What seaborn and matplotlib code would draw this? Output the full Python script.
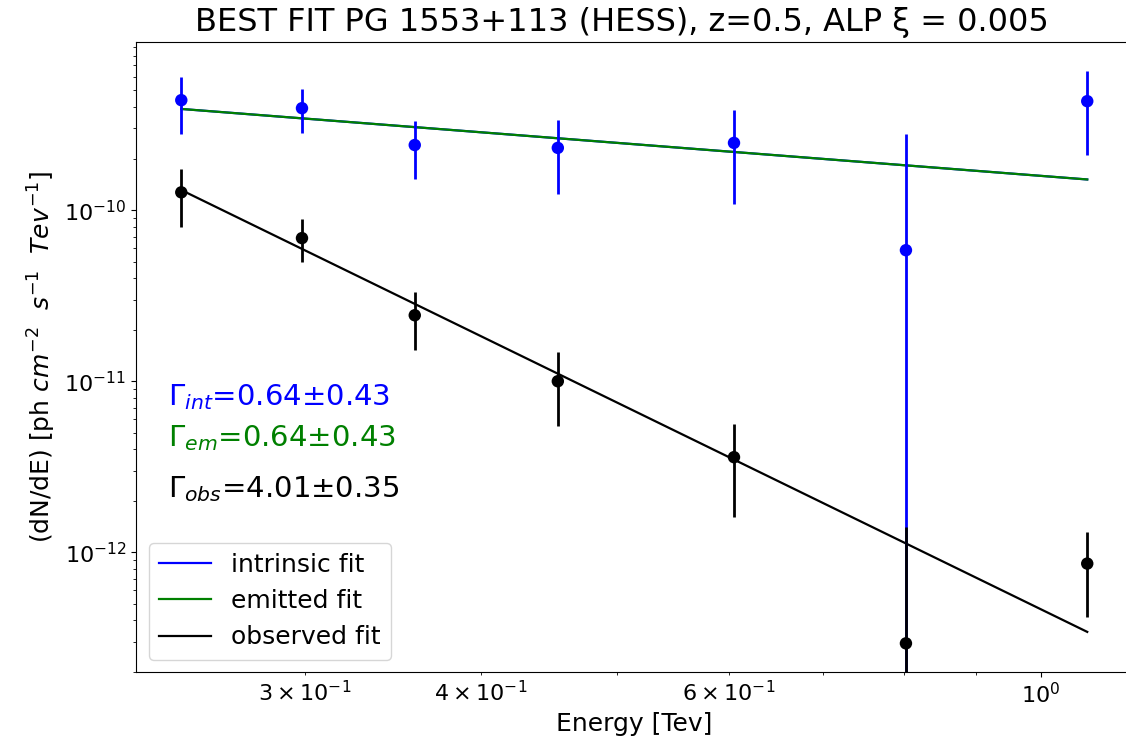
import numpy as np
import pandas as pd
import matplotlib
matplotlib.use("Agg")
import matplotlib.pyplot as plt
import seaborn as sns

# Energy bins [TeV]
energy = [0.245, 0.2985, 0.359, 0.4537, 0.6053, 0.802, 1.079]

# Intrinsic (de-absorbed) flux points and their 1-sigma bounds
flux_int = [4.39e-10, 3.94e-10, 2.40e-10, 2.31e-10, 2.47e-10, 5.83e-11, 4.33e-10]
flux_int_lo = [2.78e-10, 2.82e-10, 1.52e-10, 1.24e-10, 1.08e-10, 1.0e-14, 2.10e-10]
flux_int_hi = [6.00e-10, 5.10e-10, 3.31e-10, 3.36e-10, 3.85e-10, 2.78e-10, 6.50e-10]

# Observed flux points and their 1-sigma bounds
flux_obs = [1.27e-10, 6.86e-11, 2.43e-11, 1.00e-11, 3.60e-12, 2.94e-13, 8.60e-13]
flux_obs_lo = [7.96e-11, 4.97e-11, 1.52e-11, 5.50e-12, 1.60e-12, 1.0e-14, 4.20e-13]
flux_obs_hi = [1.74e-10, 8.86e-11, 3.31e-11, 1.48e-11, 5.60e-12, 1.40e-12, 1.31e-12]

# Power-law fit results: dN/dE = N0 * (E / E0)^(-Gamma)
gamma_int, gamma_int_err = 0.64, 0.43
gamma_em, gamma_em_err = 0.64, 0.43
gamma_obs, gamma_obs_err = 4.01, 0.35
norm_int = 3.90e-10
norm_em = 3.90e-10
norm_obs = 1.31e-10
e_ref = energy[0]

fit_names = ["intrinsic fit", "emitted fit", "observed fit"]
palette = {"intrinsic fit": "blue", "emitted fit": "green", "observed fit": "black"}

e_grid = np.geomspace(energy[0], energy[-1], 100)
fits = pd.DataFrame({
    "E": np.tile(e_grid, 3),
    "flux": np.concatenate([
        norm_int * (e_grid / e_ref) ** (-gamma_int),
        norm_em * (e_grid / e_ref) ** (-gamma_em),
        norm_obs * (e_grid / e_ref) ** (-gamma_obs),
    ]),
    "fit": np.repeat(fit_names, len(e_grid)),
})

W, H = 1126, 749
fig = plt.figure(figsize=(W / 100, H / 100), dpi=100)
ax = fig.add_axes([136 / W, 1 - 672 / H, (1132 - 136) / W, (672 - 42) / H])
ax.set_xscale("log")
ax.set_yscale("log")

sns.lineplot(data=fits, x="E", y="flux", hue="fit", palette=palette,
             hue_order=fit_names, linewidth=1.6, ax=ax, legend=True)

e = np.array(energy)
fi, fo = np.array(flux_int), np.array(flux_obs)
ax.errorbar(e, fi, yerr=[fi - np.array(flux_int_lo), np.array(flux_int_hi) - fi],
            fmt="none", ecolor="blue", elinewidth=2, zorder=3)
sns.scatterplot(x=energy, y=flux_int, color="blue", s=80, edgecolor="none",
                ax=ax, zorder=4, legend=False)
ax.errorbar(e, fo, yerr=[fo - np.array(flux_obs_lo), np.array(flux_obs_hi) - fo],
            fmt="none", ecolor="black", elinewidth=2, zorder=5)
sns.scatterplot(x=energy, y=flux_obs, color="black", s=80, edgecolor="none",
                ax=ax, zorder=6, legend=False)

ax.set_xlim(0.2275, 1.161)
ax.set_ylim(2.0e-13, 9.6e-10)

ax.set_title("BEST FIT PG 1553+113 (HESS), z=0.5, ALP \u03be = 0.005",
             fontsize=23, pad=8, x=0.488)
ax.set_xlabel("Energy [Tev]", fontsize=18)
ax.set_ylabel(r"(dN/dE) [ph $cm^{-2}$  $s^{-1}$  $Tev^{-1}$]", fontsize=18)
ax.tick_params(which="both", labelsize=16)

pm = "\u00b1"
ax.text(0.032, 0.424, r"$\Gamma_{int}$=" + f"{gamma_int:.2f}{pm}{gamma_int_err:.2f}",
        transform=ax.transAxes, color="blue", fontsize=21)
ax.text(0.032, 0.359, r"$\Gamma_{em}$=" + f"{gamma_em:.2f}{pm}{gamma_em_err:.2f}",
        transform=ax.transAxes, color="green", fontsize=21)
ax.text(0.032, 0.278, r"$\Gamma_{obs}$=" + f"{gamma_obs:.2f}{pm}{gamma_obs_err:.2f}",
        transform=ax.transAxes, color="black", fontsize=21)

leg = ax.legend(loc="lower left", fontsize=18, handlelength=2.1)
leg.set_title(None)

fig.savefig("out.png", dpi=100)
